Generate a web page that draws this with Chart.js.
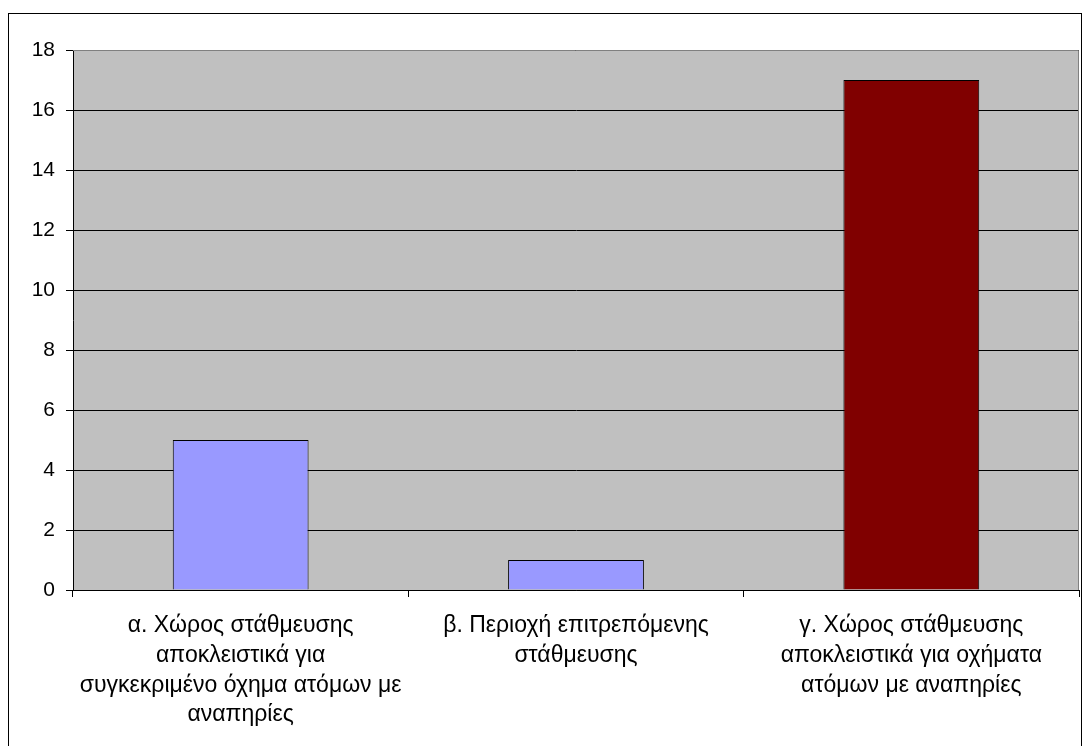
<!DOCTYPE html>
<html>
<head>
<meta charset="utf-8">
<script src="https://cdn.jsdelivr.net/npm/chart.js@4.4.1/dist/chart.umd.min.js"></script>
<style>
  html, body { margin: 0; padding: 0; background: #fff; }
  #wrap { position: absolute; left: 0; top: 0; width: 1083px; height: 746px; }
</style>
</head>
<body>
<div id="wrap"><canvas id="chart" width="1083" height="746"></canvas></div>
<script>
    // categories and values
    const categories = [
        ['α. Χώρος στάθμευσης', 'αποκλειστικά για', 'συγκεκριμένο όχημα ατόμων με', 'αναπηρίες'],
        ['β. Περιοχή επιτρεπόμενης', 'στάθμευσης'],
        ['γ. Χώρος στάθμευσης', 'αποκλειστικά για οχήματα', 'ατόμων με αναπηρίες']
    ];
    const counts = [5, 1, 17];
    const barColors = ['#9999FF', '#9999FF', '#800000'];
    const yTicks = [0, 2, 4, 6, 8, 10, 12, 14, 16, 18];

    const FONT = "'Liberation Sans', Arial, sans-serif";

    // gray plot background, outer frame
    const framePlugin = {
        id: 'frame',
        beforeDraw(chart) {
            const { ctx, chartArea: a } = chart;
            ctx.save();
            ctx.fillStyle = '#C0C0C0';
            ctx.fillRect(a.left, a.top, a.right - a.left, a.bottom - a.top);
            ctx.restore();
        },
        afterDraw(chart) {
            const { ctx, chartArea: a } = chart;
            ctx.save();
            ctx.strokeStyle = '#808080';
            ctx.lineWidth = 1;
            ctx.beginPath();
            ctx.moveTo(a.left, a.top + 0.5);
            ctx.lineTo(a.right - 0.5, a.top + 0.5);
            ctx.lineTo(a.right - 0.5, a.bottom);
            ctx.stroke();
            ctx.strokeStyle = '#000';
            ctx.strokeRect(8.5, 13.5, 1073, 740);
            ctx.restore();
        }
    };

    new Chart(document.getElementById('chart'), {
        type: 'bar',
        data: {
            labels: categories,
            datasets: [{
                data: counts,
                backgroundColor: barColors,
                borderColor: '#000',
                borderWidth: 1,
                barPercentage: 0.405,
                categoryPercentage: 1.0
            }]
        },
        options: {
            responsive: false,
            animation: false,
            layout: { padding: { left: 0, right: 4, top: 50, bottom: 0 } },
            plugins: { legend: { display: false }, tooltip: { enabled: false } },
            scales: {
                x: {
                    offset: true,
                    grid: { display: true, drawOnChartArea: false, color: '#000', tickLength: 7, offset: true },
                    border: { color: '#000', width: 1 },
                    ticks: { color: '#000', padding: 14, maxRotation: 0, autoSkip: false,
                             font: { family: FONT, size: 23, lineHeight: 1.29 } },
                    afterFit(scale) { scale.height = 156; }
                },
                y: {
                    min: 0, max: 18,
                    afterBuildTicks(scale) { scale.ticks = yTicks.map(v => ({ value: v })); },
                    grid: { color: '#000', tickLength: 7 },
                    border: { color: '#000', width: 1 },
                    ticks: { color: '#000', padding: 11, font: { family: FONT, size: 21 } },
                    afterFit(scale) { scale.width = 73; }
                }
            }
        },
        plugins: [framePlugin]
    });
</script>
</body>
</html>
